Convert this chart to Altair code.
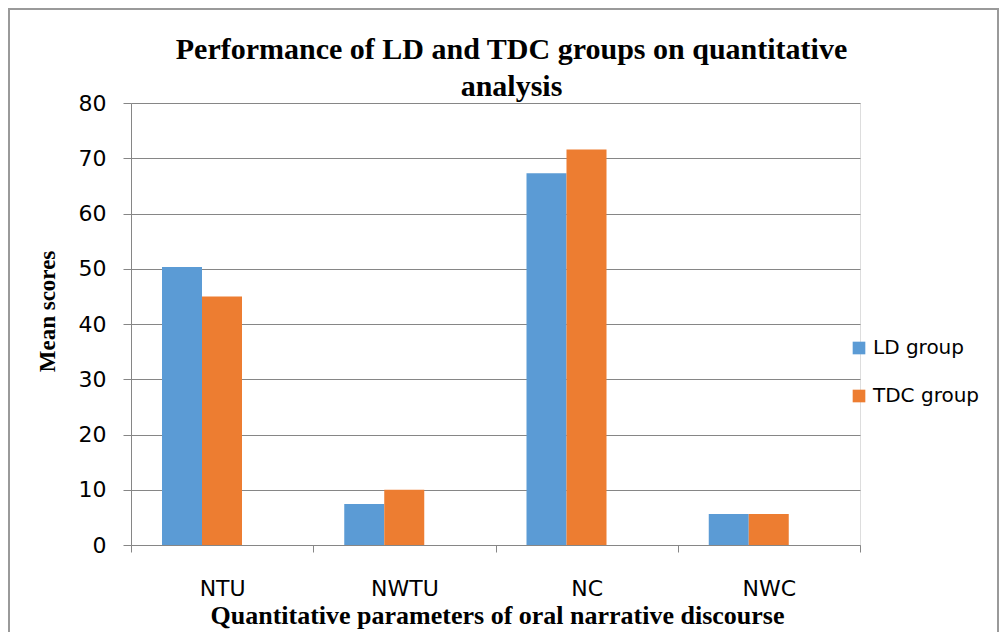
import altair as alt
import pandas as pd

categories = ["NTU", "NWTU", "NC", "NWC"]
ld_group = [50.3, 7.4, 67.3, 5.6]
tdc_group = [45.0, 10.0, 71.6, 5.6]
series = ["LD group", "TDC group"]
colors = ["#5B9BD5", "#ED7D31"]

rows = []
for c, a, b in zip(categories, ld_group, tdc_group):
    rows.append({"param": c, "group": series[0], "score": a})
    rows.append({"param": c, "group": series[1], "score": b})
df = pd.DataFrame(rows)

W, H = 729, 442
PL, PT = 123, 95

bars = alt.Chart(df).mark_bar(stroke=None).encode(
    x=alt.X("param:N", sort=categories,
            scale=alt.Scale(paddingInner=0, paddingOuter=0),
            axis=alt.Axis(title="Quantitative parameters of oral narrative discourse",
                          labelAngle=0, tickBand="extent", tickSize=7,
                          tickColor="#868686", domainColor="#868686",
                          labelFont="DejaVu Sans", labelFontSize=22, labelColor="#000000",
                          labelPadding=26,
                          titleFont="Liberation Serif", titleFontSize=26, titleFontWeight="bold",
                          titleColor="#000000", titleX=366, titleY=70,
                          titleAlign="center", titleBaseline="middle", grid=False)),
    xOffset=alt.XOffset("group:N", sort=series,
                        scale=alt.Scale(range=[31, 111], paddingInner=0, paddingOuter=0)),
    y=alt.Y("score:Q", scale=alt.Scale(domain=[0, 80], nice=False),
            axis=alt.Axis(title="Mean scores", values=list(range(0, 81, 10)),
                          tickSize=8, tickColor="#868686", domainColor="#868686",
                          gridColor="#868686", gridWidth=1,
                          labelFont="DejaVu Sans", labelFontSize=22, labelColor="#000000",
                          labelPadding=17,
                          titleFont="Liberation Serif", titleFontSize=23, titleFontWeight="bold",
                          titleColor="#000000", titleAngle=270, titleX=-84, titleY=208,
                          titleAlign="center", titleBaseline="middle")),
    color=alt.Color("group:N", sort=series,
                    scale=alt.Scale(domain=series, range=colors),
                    legend=alt.Legend(title=None, orient="none", legendX=718, legendY=235,
                                      symbolType="square", symbolSize=160, symbolStrokeWidth=0,
                                      labelFont="DejaVu Sans", labelFontSize=20,
                                      labelColor="#000000", labelOffset=4,
                                      rowPadding=28, padding=0)),
)

frame = alt.Chart(pd.DataFrame({"k": [0]})).mark_rect(
    fill=None, stroke="#9a9a9a", strokeWidth=2
).encode(
    x=alt.value(-PL + 1), x2=alt.value(W + 140 - 2),
    y=alt.value(-PT + 1), y2=alt.value(H + 120),
)

chart = alt.layer(frame, bars).properties(
    width=W, height=H,
    title=alt.TitleParams(
        text=["Performance of LD and TDC groups on quantitative", "analysis"],
        font="Liberation Serif", fontSize=30, fontWeight="bold", color="#000000",
        anchor="middle", dx=16, dy=96, offset=2, lineHeight=37,
    ),
    autosize=alt.AutoSizeParams(type="none"),
    padding={"left": PL, "top": PT, "right": 140, "bottom": 87},
).configure_view(stroke=None).configure(background="#ffffff")

chart.save("out.html", embed_options={"renderer": "svg", "actions": False})
